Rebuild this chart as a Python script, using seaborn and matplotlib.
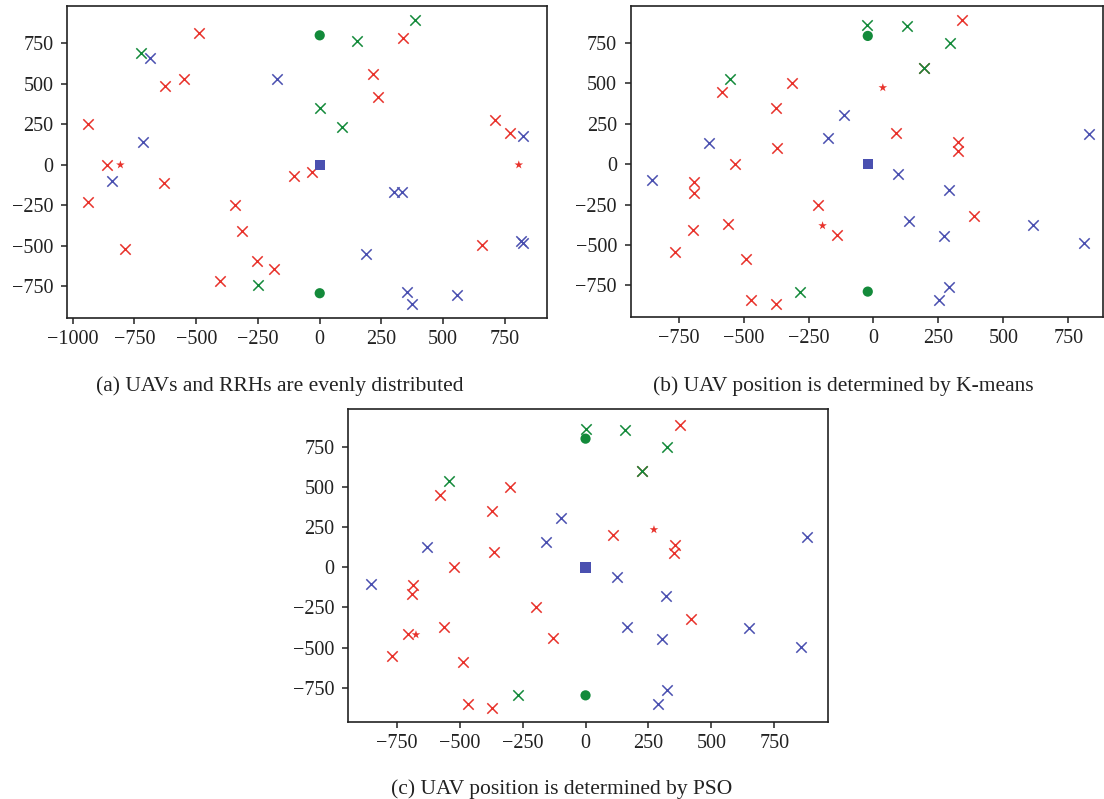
import numpy as np
import pandas as pd
import matplotlib
matplotlib.use("Agg")
import matplotlib.pyplot as plt
import seaborn as sns

# ---------------- data ----------------
# (a) UAVs and RRHs evenly distributed
A_RED_X = [(-487, 814), (-548, 533), (-625, 484), (-939, 251), (-861, 0), (-629, -110),
           (-30, -45), (-105, -66), (-939, -231), (-342, -251), (-313, -410), (-790, -519),
           (-255, -597), (-184, -645), (-402, -717), (337, 783), (216, 560), (237, 422),
           (710, 278), (772, 194), (656, -494)]
A_BLUE_X = [(-686, 660), (-174, 533), (-717, 142), (-841, -99), (824, 177), (302, -165),
            (335, -165), (814, -472), (824, -480), (189, -550), (352, -783), (372, -859),
            (556, -805)]
A_GREEN_X = [(-725, 690), (150, 765), (0, 350), (90, 235), (-250, -744), (387, 896)]
A_RED_STAR = [(-807, 0), (806, 0)]
A_GREEN_DOT = [(0, 800), (0, -793)]
A_BLUE_SQ = [(0, 0)]

# (b) K-means
B_RED_X = [(-582, 449), (-312, 501), (-376, 348), (-372, 103), (-532, 0), (-690, -110),
           (-692, -176), (-212, -252), (-141, -436), (-695, -409), (-562, -367), (-765, -545),
           (-492, -586), (-472, -840), (-377, -866), (341, 893), (195, 596), (86, 192),
           (324, 140), (326, 85), (388, -320)]
B_BLUE_X = [(-853, -97), (-632, 134), (-114, 303), (-177, 161), (829, 186), (96, -62),
            (290, -159), (137, -351), (273, -442), (614, -378), (810, -487), (290, -761),
            (252, -838)]
B_GREEN_X = [(-553, 530), (-283, -788), (-26, 862), (131, 854), (293, 751), (195, 596)]
B_RED_STAR = [(-196, -380), (36, 474)]
B_GREEN_DOT = [(-22, 794), (-22, -788)]
B_BLUE_SQ = [(-21, 0)]

# (c) PSO
C_RED_X = [(-577, 453), (-300, 501), (-372, 353), (-362, 97), (-524, 0), (-687, -112),
           (-690, -168), (-197, -249), (-561, -370), (-706, -418), (-128, -443), (-769, -553),
           (-488, -592), (-468, -854), (-372, -879), (376, 889), (226, 598), (111, 199),
           (355, 141), (353, 90), (421, -322)]
C_BLUE_X = [(-99, 305), (-630, 128), (-158, 156), (-853, -106), (879, 187), (124, -62),
            (321, -177), (165, -374), (305, -445), (651, -380), (858, -499), (325, -767),
            (288, -852)]
C_GREEN_X = [(0, 864), (-543, 536), (-270, -794), (157, 856), (325, 750), (226, 598)]
C_RED_STAR = [(-674, -420), (272, 235)]
C_GREEN_DOT = [(0, 802), (0, -798)]
C_BLUE_SQ = [(0, 0)]

CAPTIONS = ["(a) UAVs and RRHs are evenly distributed",
            "(b) UAV position is determined by K-means",
            "(c) UAV position is determined by PSO"]
TICKS = [-1000, -750, -500, -250, 0, 250, 500, 750]

RED = "#e8322b"
BLUE = "#4a50b0"
GREEN = "#138a3a"

sns.set_style("ticks")
plt.rcParams["font.family"] = ["Liberation Serif", "DejaVu Serif"]
plt.rcParams["axes.unicode_minus"] = True

fig = plt.figure(figsize=(11.04, 7.99), dpi=100)
W, H = 1104, 799


def add_axes(l, r, t, b):
    return fig.add_axes([l / W, 1 - b / H, (r - l) / W, (b - t) / H])


axes = [add_axes(67.3, 546.7, 5.7, 318.0),
        add_axes(630.7, 1102.5, 5.7, 317.3),
        add_axes(348.3, 828.3, 409.3, 722.3)]
limits = [((-1022, 919), (-946, 983)),
          ((-935, 882), (-947, 981)),
          ((-943, 965), (-966, 985))]
panels = [(A_RED_X, A_BLUE_X, A_GREEN_X, A_RED_STAR, A_GREEN_DOT, A_BLUE_SQ),
          (B_RED_X, B_BLUE_X, B_GREEN_X, B_RED_STAR, B_GREEN_DOT, B_BLUE_SQ),
          (C_RED_X, C_BLUE_X, C_GREEN_X, C_RED_STAR, C_GREEN_DOT, C_BLUE_SQ)]
# caption centre (pixels)
CAP_POS = [(280, 386), (843, 386), (562, 789)]


def pts(lst):
    return pd.DataFrame(lst, columns=["x", "y"])


for ax, (rx, bx, gx, rs, gd, bs), (xl, yl), cap, (cx, cy) in zip(
        axes, panels, limits, CAPTIONS, CAP_POS):
    for lst, col in [(rx, RED), (bx, BLUE), (gx, GREEN)]:
        d = pts(lst)
        sns.scatterplot(data=d, x="x", y="y", ax=ax, marker="x", color=col,
                        s=56, linewidth=1.1, legend=False)
    d = pts(rs)
    sns.scatterplot(data=d, x="x", y="y", ax=ax, marker="*", color=RED,
                    s=42, linewidth=0, edgecolor="none", legend=False)
    d = pts(gd)
    sns.scatterplot(data=d, x="x", y="y", ax=ax, marker="o", color=GREEN,
                    s=54, linewidth=0, edgecolor="none", legend=False)
    d = pts(bs)
    sns.scatterplot(data=d, x="x", y="y", ax=ax, marker="s", color=BLUE,
                    s=56, linewidth=0, edgecolor="none", legend=False)
    ax.set_xlim(*xl)
    ax.set_ylim(*yl)
    ax.set_xticks([t for t in TICKS if xl[0] <= t <= xl[1]])
    ax.set_yticks([t for t in TICKS if yl[0] <= t <= yl[1]])
    ax.set_xlabel("")
    ax.set_ylabel("")
    ax.tick_params(direction="out", length=4.5, width=1.1, colors="#222222",
                   labelsize=14.5, labelcolor="#222222")
    ax.tick_params(axis="x", pad=3.9)
    ax.tick_params(axis="y", pad=5.4)
    for sp in ax.spines.values():
        sp.set_visible(True)
        sp.set_color("#222222")
        sp.set_linewidth(1.2)
    fig.text(cx / W, 1 - cy / H, cap, ha="center", va="center",
             fontsize=15.5, color="#222222")

fig.savefig("out.png", dpi=100)
